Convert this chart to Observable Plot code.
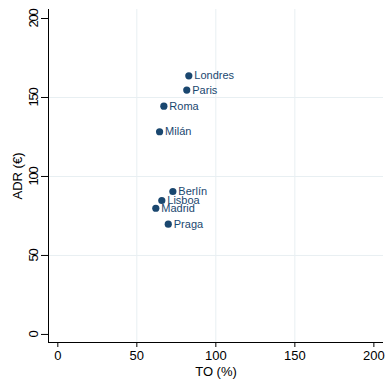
<!DOCTYPE html>
<html>
<head>
<meta charset="utf-8">
<script src="https://cdn.jsdelivr.net/npm/d3@7"></script>
<script src="https://cdn.jsdelivr.net/npm/@observablehq/plot@0.6"></script>
<style>
  html, body { margin: 0; padding: 0; background: #fff; }
  #chart svg { display: block; }
</style>
</head>
<body>
<div id="chart"></div>
<script>
const cities = ["Londres", "Paris", "Roma", "Milán", "Berlín", "Lisboa", "Madrid", "Praga"];
const to = [82.9, 81.6, 67.1, 64.4, 72.8, 65.8, 62.0, 69.9];
const adr = [163.7, 154.7, 144.5, 128.3, 90.5, 84.8, 79.9, 69.8];
const xTicks = [0, 50, 100, 150, 200];
const yTicks = [0, 50, 100, 150, 200];
const gridValues = [50, 100, 150];
const xDomain = [-5.9, 206.1];
const yDomain = [-5.1, 205.7];

const data = cities.map((c, i) => ({city: c, to: to[i], adr: adr[i]}));
const navy = "#1a476f";
const font = "'Liberation Sans', Arial, Helvetica, sans-serif";

const chart = Plot.plot({
  width: 386,
  height: 382,
  marginLeft: 48,
  marginRight: 3,
  marginTop: 9,
  marginBottom: 40,
  style: {fontFamily: font, fontSize: "13px", color: "#000", background: "#fff"},
  x: {domain: xDomain, ticks: xTicks},
  y: {domain: yDomain, ticks: yTicks},
  marks: [
    Plot.ruleX(gridValues, {stroke: "#e8eff2", strokeWidth: 1}),
    Plot.ruleY(gridValues, {stroke: "#e8eff2", strokeWidth: 1}),
    Plot.ruleX([xDomain[0]], {stroke: "#000", strokeWidth: 1}),
    Plot.ruleY([yDomain[0]], {stroke: "#000", strokeWidth: 1}),
    Plot.axisX({ticks: xTicks, tickSize: 5, tickPadding: 3, fontSize: 13, label: "TO (%)", labelAnchor: "center", labelArrow: "none", labelOffset: 33}),
    Plot.axisY({ticks: yTicks, tickSize: 7, tickPadding: 4, tickRotate: -90, fontSize: 13, label: "ADR (€)", labelAnchor: "center", labelArrow: "none", labelOffset: 36}),
    Plot.dot(data, {x: "to", y: "adr", r: 3.6, fill: navy, stroke: "none"}),
    Plot.text(data, {x: "to", y: "adr", text: "city", textAnchor: "start", dx: 5.5, fill: navy, fontSize: 11})
  ]
});
d3.select(chart).selectAll("g[aria-label='y-axis tick label'] text").style("letter-spacing", "-1.2px");
document.getElementById("chart").appendChild(chart);
</script>
</body>
</html>
